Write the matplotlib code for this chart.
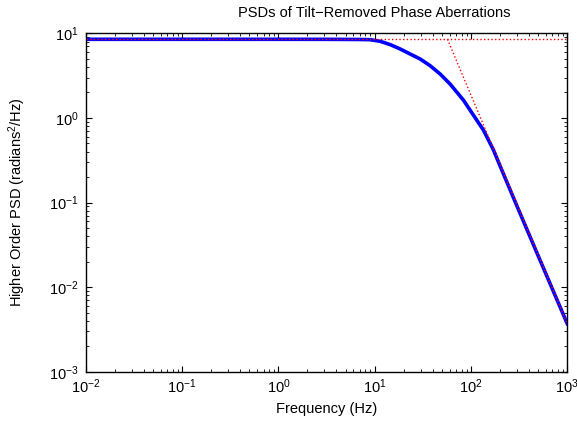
import matplotlib
matplotlib.use('Agg')
import matplotlib.pyplot as plt

plt.rcParams['font.family'] = ['Liberation Sans', 'DejaVu Sans']
plt.rcParams['mathtext.default'] = 'regular'

# blue curve
freq = [0.01, 0.1, 1, 3, 5, 7, 8.95, 11.4, 14.5, 18.4, 23.3, 29.6, 37.7, 47.9,
        60.8, 74.2, 83.6, 106, 135, 171, 201, 300, 500, 1000]
psd = [8.5, 8.5, 8.5, 8.49, 8.47, 8.45, 8.41, 8.05, 7.35, 6.53, 5.70, 4.98, 4.14, 3.30,
       2.51, 1.91, 1.62, 1.08, 0.716, 0.42, 0.27, 0.0914, 0.0234, 0.0037]

# red dotted asymptotes
flat_f = [0.01, 1000]
flat_p = [8.5, 8.5]
slope_f = [57, 1000]
slope_p = [8.5, 0.0037]

fig = plt.figure(figsize=(5.77, 4.25), dpi=100)
ax = fig.add_axes([0.149, 0.1254, 0.834, 0.7962])

ax.loglog(freq, psd, '-', color='blue', lw=2.6)
ax.loglog(flat_f, flat_p, ':', color='red', lw=1)
ax.loglog(slope_f, slope_p, ':', color='red', lw=1)

ax.set_xlim(1e-2, 1e3)
ax.set_ylim(1e-3, 1e1)

ax.tick_params(which='both', direction='in', top=True, right=True, labelsize=10.5)
ax.tick_params(axis='y', which='major', pad=5)
ax.tick_params(axis='x', which='major', pad=4)
ax.tick_params(which='major', length=4)
ax.tick_params(which='minor', length=2)
for s in ax.spines.values():
    s.set_linewidth(1)

ax.set_xlabel('Frequency (Hz)', fontsize=10.5)
ax.set_ylabel('Higher Order PSD (radians$^2$/Hz)', fontsize=10.5)
ax.xaxis.set_label_coords(0.5, -0.0895)
ax.yaxis.set_label_coords(-0.1206, 0.5)
fig.text(374 / 577, 1 - 13 / 425, 'PSDs of Tilt\u2212Removed Phase Aberrations',
         ha='center', va='center', fontsize=10.5)

fig.savefig('out.png', dpi=100)
